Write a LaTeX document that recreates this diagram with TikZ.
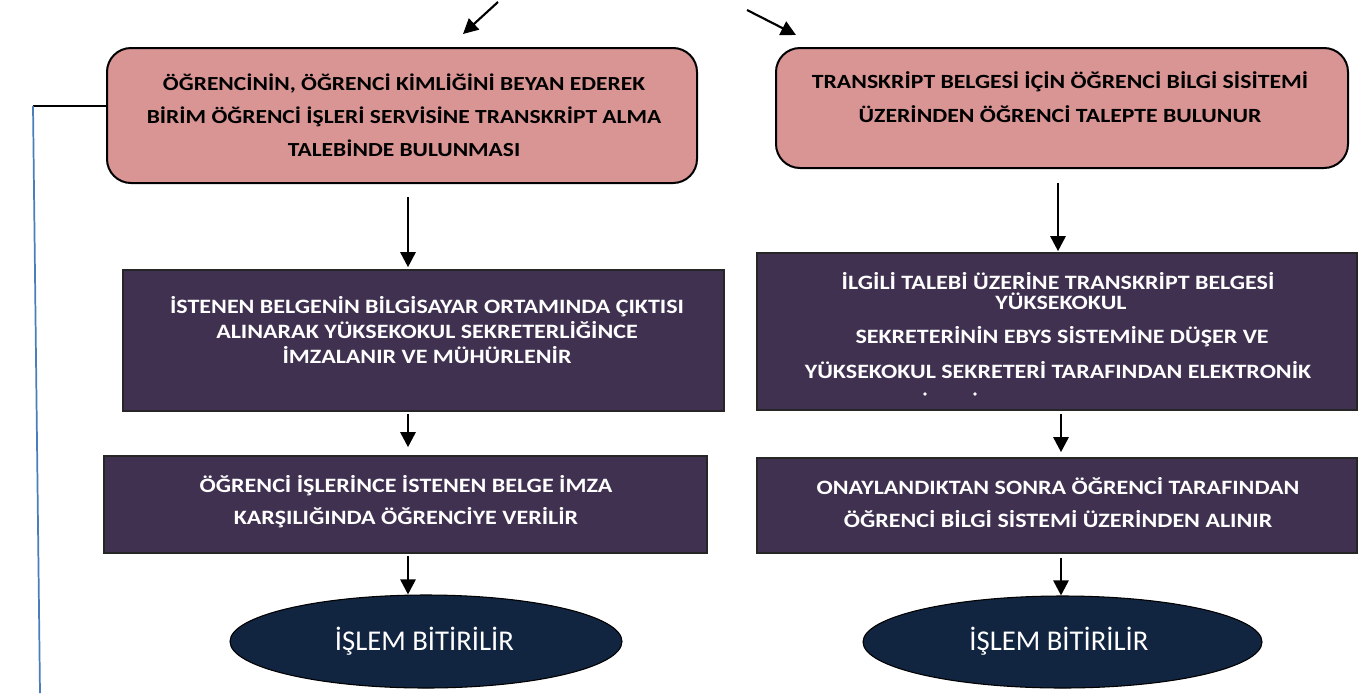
\documentclass[tikz,border=0pt]{standalone}
\usepackage{fontspec}
\setmainfont{Carlito}
\usetikzlibrary{shapes.geometric,arrows.meta,calc}
\definecolor{pinkfill}{RGB}{217,149,148}
\definecolor{purplefill}{RGB}{64,49,81}
\definecolor{navyfill}{RGB}{17,36,64}
\definecolor{linkblue}{RGB}{74,126,187}
\newcommand\sqz[1]{\scalebox{1}[0.85]{#1}}
\tikzset{
  pinkbox/.style={draw=black, line width=1.5pt, fill=pinkfill, rounded corners=18pt, inner sep=0pt},
  darkbox/.style={draw=black!85, line width=1.2pt, fill=purplefill, inner sep=0pt},
  endell/.style={ellipse, draw=black, line width=0.8pt, fill=navyfill, inner sep=0pt},
  btxt/.style={font=\bfseries\fontsize{18}{24.75}\selectfont, align=center, inner sep=0pt},
  wtxt/.style={btxt, text=white},
  arr/.style={line width=2pt, -{Triangle[width=11.25pt,length=11.25pt]}},
}
\begin{document}
\begin{tikzpicture}[x=0.75pt,y=-0.75pt]
\useasboundingbox (0,0) rectangle (1367,693);
% boxes
\node[pinkbox, minimum width=442.5pt, minimum height=101.25pt] (boxA) at (402,115.5) {};
\node[pinkbox, minimum width=429pt, minimum height=90pt] (boxB) at (1062,108) {};
\node[darkbox, minimum width=450.75pt, minimum height=105.75pt] (boxC) at (423.5,340.5) {};
\node[darkbox, minimum width=450pt, minimum height=117.75pt] (boxD) at (1057,331.5) {};
\node[darkbox, minimum width=452.25pt, minimum height=72.75pt] (boxE) at (405.5,504.5) {};
\node[darkbox, minimum width=450pt, minimum height=71.25pt] (boxF) at (1057,505.5) {};
\node[endell, minimum width=294pt, minimum height=69.75pt] (ellL) at (426,641.5) {};
\node[endell, minimum width=299.25pt, minimum height=69pt] (ellR) at (1062.5,642) {};
% texts
\node[btxt, font=\bfseries\fontsize{17.6}{24.75}\selectfont] (tA) at (404,115) {\sqz{ÖĞRENCİNİN, ÖĞRENCİ KİMLİĞİNİ BEYAN EDEREK}\\\sqz{BİRİM ÖĞRENCİ İŞLERİ SERVİSİNE TRANSKRİPT ALMA}\\\sqz{TALEBİNDE BULUNMASI}};
\node[btxt, font=\bfseries\fontsize{17.8}{25.5}\selectfont] (tB) at (1060,97) {\sqz{TRANSKRİPT BELGESİ İÇİN ÖĞRENCİ BİLGİ SİSİTEMİ}\\\sqz{ÜZERİNDEN ÖĞRENCİ TALEPTE BULUNUR}};
\node[wtxt, font=\bfseries\fontsize{18}{18.75}\selectfont] (tC) at (427,330) {\sqz{İSTENEN BELGENİN BİLGİSAYAR ORTAMINDA ÇIKTISI}\\\sqz{ALINARAK YÜKSEKOKUL SEKRETERLİĞİNCE}\\\sqz{İMZALANIR VE MÜHÜRLENİR}};
\node[wtxt] (tD1) at (1058,281) {\sqz{İLGİLİ TALEBİ ÜZERİNE TRANSKRİPT BELGESİ}};
\node[wtxt] (tD2) at (1061,301) {\sqz{YÜKSEKOKUL}};
\node[wtxt] (tD3) at (1062,337) {\sqz{SEKRETERİNİN EBYS SİSTEMİNE DÜŞER VE}};
\node[wtxt] (tD4) at (1058,370) {\sqz{YÜKSEKOKUL SEKRETERİ TARAFINDAN ELEKTRONİK}};
\fill[white] (925,394) circle (1.8);
\fill[white] (975,394) circle (1.8);
\node[wtxt, font=\bfseries\fontsize{18}{24}\selectfont] (tE) at (406,502) {\sqz{ÖĞRENCİ İŞLERİNCE İSTENEN BELGE İMZA}\\\sqz{KARŞILIĞINDA ÖĞRENCİYE VERİLİR}};
\node[wtxt] (tF) at (1058,503) {\sqz{ONAYLANDIKTAN SONRA ÖĞRENCİ TARAFINDAN}\\\sqz{ÖĞRENCİ BİLGİ SİSTEMİ ÜZERİNDEN ALINIR}};
\node[text=white, font=\fontsize{21.5}{24}\selectfont, inner sep=0pt] (tL) at (424.5,641) {İŞLEM BİTİRİLİR};
\node[text=white, font=\fontsize{21.5}{24}\selectfont, inner sep=0pt] (tR) at (1059,641) {İŞLEM BİTİRİLİR};
% arrows
\draw[arr] ($(boxA.south)+(6,13)$) -- ($(boxC.north)+(-15.5,-2)$);
\draw[arr] ($(boxC.south)+(-15.5,2)$) -- ($(boxE.north)+(2.5,-8)$);
\draw[arr] ($(boxE.south)+(2.5,2)$) -- ($(ellL.north)+(-18,0)$);
\draw[arr] ($(boxB.south)+(-4,14)$) -- ($(boxD.north)+(1,-1)$);
\draw[arr] ($(boxD.south)+(4,3)$) -- ($(boxF.north)+(4,-5)$);
\draw[arr] ($(boxF.south)+(4,4)$) -- ($(ellR.north)+(-1.5,0)$);
% top arrows
\coordinate (t1s) at (498,2);
\coordinate (t1e) at (463,34);
\coordinate (t2s) at (747,10);
\coordinate (t2e) at (796,35);
\draw[arr, line width=1.6pt] (t1s) -- (t1e);
\draw[arr, line width=1.6pt] (t2s) -- (t2e);
% left connector
\coordinate (la) at ($(boxA.west)+(0,-9.5)$);
\coordinate (lc1) at (33,106);
\coordinate (lc2) at (40,693);
\draw[line width=1.3pt] (la) -- (lc1);
\draw[linkblue, line width=1.3pt] (lc1) -- (lc2);
\end{tikzpicture}
\end{document}
